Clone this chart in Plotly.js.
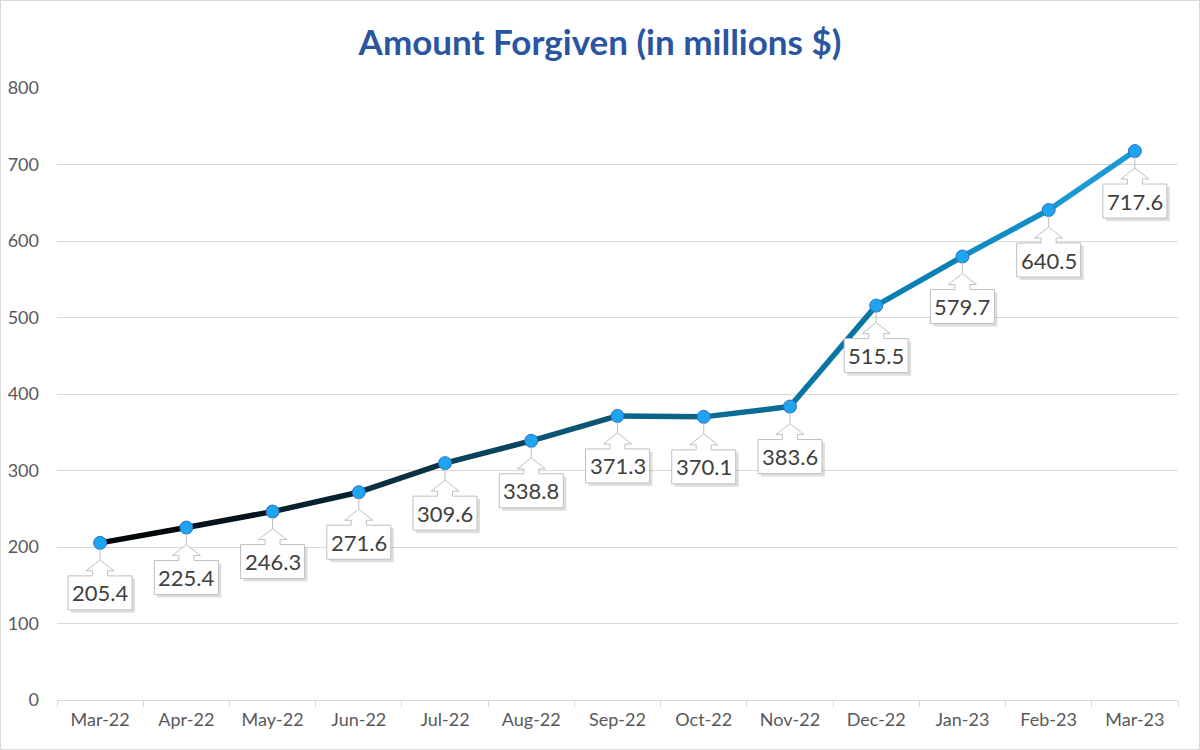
<!DOCTYPE html>
<html>
<head>
<meta charset="utf-8">
<script src="https://cdn.plot.ly/plotly-3.0.1.min.js"></script>
<style>
  html, body { margin: 0; padding: 0; background: #ffffff; }
  #chart { width: 1198px; height: 748px; border: 1px solid #d9d9d9; }
</style>
</head>
<body>
<div id="chart"></div>
<script>
// ---- data ----
const months = ["Mar-22","Apr-22","May-22","Jun-22","Jul-22","Aug-22","Sep-22","Oct-22","Nov-22","Dec-22","Jan-23","Feb-23","Mar-23"];
const amountForgiven = [205.4, 225.4, 246.3, 271.6, 309.6, 338.8, 371.3, 370.1, 383.6, 515.5, 579.7, 640.5, 717.6];
const yTicks = [0, 100, 200, 300, 400, 500, 600, 700, 800];
const chartTitle = "Amount Forgiven (in millions $)";

// ---- style ----
const FONT = "Lato, 'Noto Sans', sans-serif";
const gradStops = [
  [0.00, [0, 0, 0]],
  [0.25, [10, 40, 55]],
  [0.50, [10, 95, 128]],
  [0.75, [8, 122, 170]],
  [1.00, [28, 160, 220]]
];
function gradColor(t) {
  for (let k = 0; k < gradStops.length - 1; k++) {
    const [t0, c0] = gradStops[k], [t1, c1] = gradStops[k + 1];
    if (t >= t0 && t <= t1) {
      const f = (t - t0) / (t1 - t0);
      const c = c0.map((v, j) => Math.round(v + (c1[j] - v) * f));
      return `rgb(${c[0]},${c[1]},${c[2]})`;
    }
  }
  const c = gradStops[gradStops.length - 1][1];
  return `rgb(${c[0]},${c[1]},${c[2]})`;
}

const traces = [];
const n = months.length;
for (let i = 0; i < n - 1; i++) {
  traces.push({
    type: "scatter", mode: "lines",
    x: [months[i], months[i + 1]],
    y: [amountForgiven[i], amountForgiven[i + 1]],
    line: { color: gradColor((i + 0.5) / (n - 1)), width: 5.5 },
    hoverinfo: "skip", showlegend: false, cliponaxis: false
  });
}
traces.push({
  type: "scatter", mode: "markers",
  x: months, y: amountForgiven,
  marker: { size: 13, color: "#1fa5f0", line: { color: "#2f6fc4", width: 1 } },
  hoverinfo: "skip", showlegend: false, cliponaxis: false
});

// callout geometry (pixels relative to the point, y positive up)
const calloutPath = "M -32,-33 L -7.5,-33 L -7.5,-28 L -14,-28 L 0,-17 L 14,-28 L 7.5,-28 L 7.5,-33 L 32,-33 L 32,-67 L -32,-67 Z";
const shadowPath = "M -29,-36 L 35,-36 L 35,-70 L -29,-70 Z";
const shapes = [];
const annotations = [];
months.forEach((m, i) => {
  const common = {
    type: "path", xref: "x", yref: "y",
    xsizemode: "pixel", ysizemode: "pixel",
    xanchor: i, yanchor: amountForgiven[i], layer: "above"
  };
  shapes.push(Object.assign({}, common, {
    path: shadowPath, fillcolor: "rgba(0,0,0,0.13)", line: { width: 0 }
  }));
  shapes.push(Object.assign({}, common, {
    path: "M 0,-6 L 0,-17", line: { color: "#bfbfbf", width: 1 }
  }));
  shapes.push(Object.assign({}, common, {
    path: calloutPath, fillcolor: "#ffffff", line: { color: "#bfbfbf", width: 1 }
  }));
  annotations.push({
    x: m, y: amountForgiven[i], xref: "x", yref: "y",
    text: amountForgiven[i].toFixed(1), showarrow: false,
    yshift: -50, xanchor: "center", yanchor: "middle",
    font: { family: FONT, size: 22, color: "#404040" }
  });
});

const layout = {
  width: 1198, height: 748,
  margin: { l: 56, r: 21, t: 87, b: 49 },
  paper_bgcolor: "#ffffff", plot_bgcolor: "#ffffff",
  font: { family: FONT, color: "#595959", size: 18 },
  title: {
    text: "<b>" + chartTitle + "</b>",
    font: { family: FONT, size: 35, color: "#2a55a0" },
    x: 0.5, xanchor: "center", y: 1 - 42 / 748, yanchor: "middle", yref: "container"
  },
  xaxis: {
    type: "category", categoryarray: months,
    range: [-0.5, n - 0.5],
    showgrid: false, showline: true, linecolor: "#d9d9d9", linewidth: 1,
    ticks: "outside", tickson: "boundaries", ticklen: 6, tickcolor: "#d9d9d9",
    ticklabelstandoff: 3,
    tickfont: { family: FONT, size: 18, color: "#595959" },
    zeroline: false, fixedrange: true
  },
  yaxis: {
    range: [0, 800], tickvals: yTicks,
    showgrid: true, gridcolor: "#d9d9d9", gridwidth: 1,
    showline: false, zeroline: false, ticks: "", ticklabelstandoff: 17,
    tickfont: { family: FONT, size: 18, color: "#595959" },
    fixedrange: true
  },
  shapes: shapes,
  annotations: annotations
};

Plotly.newPlot("chart", traces, layout, { displayModeBar: false, staticPlot: true });
</script>
</body>
</html>
